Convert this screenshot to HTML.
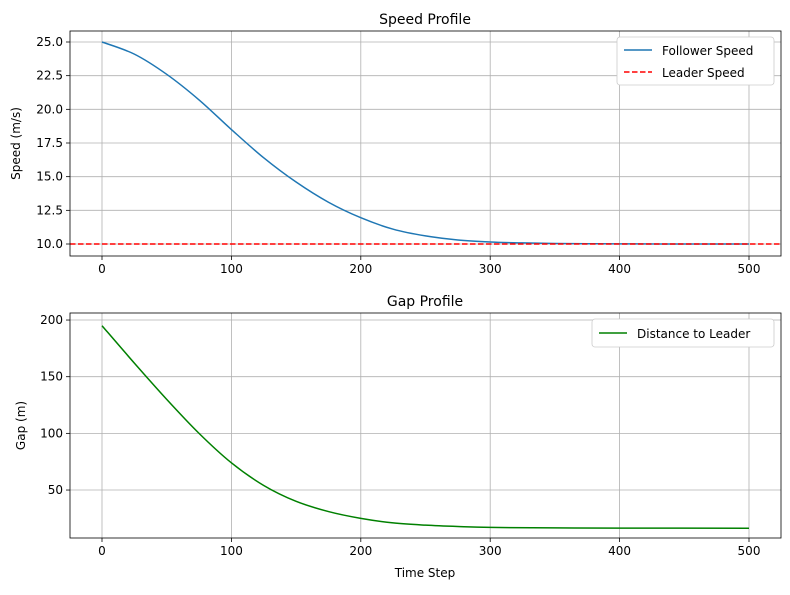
<!DOCTYPE html>
<html><head><meta charset="utf-8"><style>
body{margin:0;background:#fff;font-family:"Liberation Sans","DejaVu Sans",sans-serif}
svg text{font-family:"DejaVu Sans","Liberation Sans",sans-serif;fill:#000}
</style></head><body>
<svg id="chart" width="790" height="590" xmlns="http://www.w3.org/2000/svg"></svg>
<script>
const steps = [0,25,50,75,100,125,150,175,200,225,250,275,300,325,350,375,400,450,500];
const followerSpeed = [25,24.1,22.6,20.7,18.5,16.4,14.6,13.1,11.95,11.1,10.6,10.3,10.15,10.08,10.04,10.02,10.01,10.0,10.0];
const leaderSpeed = 10;
const gapSteps = [0,25,50,75,100,125,150,175,200,225,250,275,300,350,400,500];
const gapValues = [195,162,130,100,74,54,40,31,25,21,19,17.8,17,16.6,16.4,16.3];
const xTicks = [0,100,200,300,400,500];
const speedTicks = [10.0,12.5,15.0,17.5,20.0,22.5,25.0];
const gapTicks = [50,100,150,200];

const svg = document.getElementById('chart');
const NS = 'http://www.w3.org/2000/svg';
function mk(tag, attrs, parent){const e=document.createElementNS(NS,tag);for(const k in attrs)e.setAttribute(k,attrs[k]);(parent||svg).appendChild(e);return e;}
const xS = v => 102 + v*(749-102)/500;

function smoothPath(pts){
  let d = 'M'+pts[0][0]+','+pts[0][1];
  for(let i=0;i<pts.length-1;i++){
    const p0=pts[Math.max(0,i-1)],p1=pts[i],p2=pts[i+1],p3=pts[Math.min(pts.length-1,i+2)];
    const c1x=p1[0]+(p2[0]-p0[0])/6,c1y=p1[1]+(p2[1]-p0[1])/6;
    const c2x=p2[0]-(p3[0]-p1[0])/6,c2y=p2[1]-(p3[1]-p1[1])/6;
    d+=` C${c1x},${c1y} ${c2x},${c2y} ${p2[0]},${p2[1]}`;
  }
  return d;
}

function panel(name, top, bottom, yS, yTicks, fmt, title, ylabel){
  const g = mk('g',{});
  
  
  xTicks.forEach(t=>{
    const l = mk('line',{x1:xS(t),x2:xS(t),y1:top,y2:bottom,stroke:'#b0b0b0','stroke-width':0.8},g);
    
    
    mk('line',{x1:xS(t),x2:xS(t),y1:bottom,y2:bottom+4,stroke:'#000','stroke-width':0.8},g);
    const tx = mk('text',{x:xS(t),y:bottom+17,'text-anchor':'middle','font-size':12},g);
    tx.textContent = t;
    
    
  });
  yTicks.forEach(t=>{
    const l = mk('line',{x1:70,x2:781,y1:yS(t),y2:yS(t),stroke:'#b0b0b0','stroke-width':0.8},g);
    
    
    mk('line',{x1:66,x2:70,y1:yS(t),y2:yS(t),stroke:'#000','stroke-width':0.8},g);
    const tx = mk('text',{x:63,y:yS(t)+4,'text-anchor':'end','font-size':12},g);
    tx.textContent = fmt(t);
    
    
  });
  const tt = mk('text',{x:425,y:top-7,'text-anchor':'middle','font-size':14},g);
  tt.textContent = title;
  
  
  const yl = mk('text',{x:0,y:0,'text-anchor':'middle','font-size':12,transform:`translate(${name==='speed-panel'?20:25},${(top+bottom)/2}) rotate(-90)`},g);
  yl.textContent = ylabel;
  
  
  return g;
}
function frame(g, top, bottom){
  const r = mk('rect',{x:70,y:top,width:711,height:bottom-top,fill:'none',stroke:'#000','stroke-width':0.8},g);
  
  
}

// Speed panel
const ySp = v => 244 - (v-10)*(244-42)/15;
const g1 = panel('speed-panel',31,256,ySp,speedTicks,v=>v.toFixed(1),'Speed Profile','Speed (m/s)');
const p1 = mk('path',{d:smoothPath(steps.map((s,i)=>[xS(s),ySp(followerSpeed[i])])),fill:'none',stroke:'#1f77b4','stroke-width':1.5},g1);


const l1 = mk('line',{x1:70,x2:781,y1:ySp(leaderSpeed),y2:ySp(leaderSpeed),stroke:'#ff0000','stroke-width':1.5,'stroke-dasharray':'5.5,2.5'},g1);


frame(g1,31,256);
const lg1 = mk('g',{},g1);


mk('rect',{x:617,y:37,width:157,height:48,rx:3,fill:'#fff',stroke:'#ccc','stroke-width':0.8},lg1);
mk('line',{x1:624,x2:652,y1:50,y2:50,stroke:'#1f77b4','stroke-width':1.5},lg1);
const e1 = mk('text',{x:662,y:55,'font-size':12},lg1); e1.textContent='Follower Speed';
 
mk('line',{x1:624,x2:652,y1:72,y2:72,stroke:'#ff0000','stroke-width':1.5,'stroke-dasharray':'5.5,2.5'},lg1);
const e2 = mk('text',{x:662,y:77,'font-size':12},lg1); e2.textContent='Leader Speed';
 

// Gap panel
const yGp = v => 546.7 - v*(490-320)/150;
const g2 = panel('gap-panel',313,538,yGp,gapTicks,v=>String(v),'Gap Profile','Gap (m)');
const p2 = mk('path',{d:smoothPath(gapSteps.map((s,i)=>[xS(s),yGp(gapValues[i])])),fill:'none',stroke:'#008000','stroke-width':1.5},g2);


frame(g2,313,538);
const lg2 = mk('g',{},g2);


mk('rect',{x:592,y:319,width:182,height:28,rx:3,fill:'#fff',stroke:'#ccc','stroke-width':0.8},lg2);
mk('line',{x1:599,x2:627,y1:333,y2:333,stroke:'#008000','stroke-width':1.5},lg2);
const e3 = mk('text',{x:637,y:338,'font-size':12},lg2); e3.textContent='Distance to Leader';
 
const xt = mk('text',{x:425,y:577,'text-anchor':'middle','font-size':12},g2);
xt.textContent='Time Step';


</script>
</body></html>
